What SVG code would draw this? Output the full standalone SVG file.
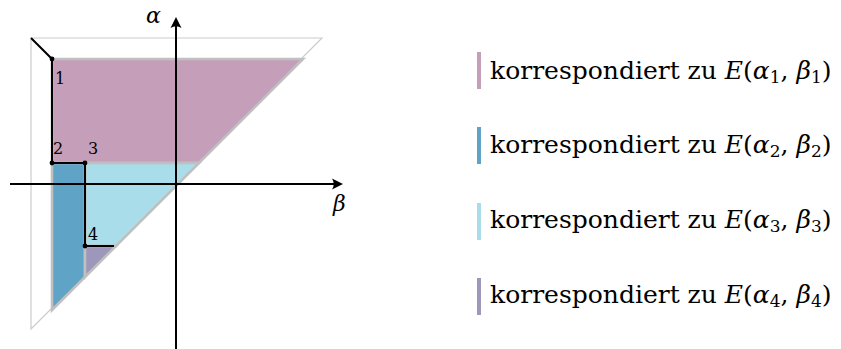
<svg xmlns="http://www.w3.org/2000/svg" width="841" height="349" viewBox="0 0 841 349">
<style>
.reg{stroke:#c0c0c0;stroke-width:2.6;stroke-linejoin:miter}
.ax{stroke:#000;stroke-width:2;fill:none}
.num{font-size:16px}
.lg{font-size:25px}
.it{font-style:italic}
.sub{font-size:17px}
.bar{stroke:none}
</style>
<rect width="841" height="349" fill="#fff"/>
<g id="plot">
<polygon id="outer" points="31,38 322,38 31,329" fill="none" stroke="#cccccc" stroke-width="1.2"/>
<polygon id="region1" class="reg" points="52,59 303,59 199,163 52,163" fill="#c59fb9"/>
<polygon id="region3" class="reg" points="85,163 199,163 116,246 85,246" fill="#a9ddea"/>
<polygon id="region2" class="reg" points="52,163 85,163 85,277 52,310" fill="#5fa3c7"/>
<polygon id="region4" class="reg" points="85,246 116,246 85,277" fill="#9c97bb"/>
</g>
<g id="axes">
<line class="ax" x1="10" y1="184" x2="338" y2="184"/>
<path d="M343,184 L332,178.5 Q335.5,184 332,189.5 Z" fill="#000"/>
<line class="ax" x1="176" y1="349" x2="176" y2="22"/>
<path d="M176,17 L170.5,28 Q176,24.5 181.5,28 Z" fill="#000"/>
<text x="146" y="23" font-family="DejaVu Serif, serif" font-size="22" font-style="italic">α</text>
<text x="333" y="211" font-family="DejaVu Serif, serif" font-size="22" font-style="italic">β</text>
</g>
<g id="connectors">
<path d="M31,38 L52,59 L52,163 L85,163 L85,246 L114,246" fill="none" stroke="#000" stroke-width="2"/>
<circle cx="52" cy="59" r="2.4"/>
<circle cx="52" cy="163" r="2.4"/>
<circle cx="85" cy="163" r="2.4"/>
<circle cx="85" cy="246" r="2.4"/>
</g>
<g id="labels" font-family="DejaVu Serif, serif">
<text x="55" y="84" class="num">1</text>
<text x="53" y="154" class="num">2</text>
<text x="88" y="154" class="num">3</text>
<text x="88" y="240" class="num">4</text>
</g>
<g id="legend" font-family="DejaVu Serif, serif">
<g id="leg1">
<rect class="bar" x="477" y="52" width="4" height="37" fill="#c59fb9"/>
<text x="490" y="79" class="lg">korrespondiert zu <tspan class="it">E</tspan>(<tspan class="it">α</tspan><tspan class="sub" dy="4">1</tspan><tspan dy="-4">, </tspan><tspan class="it">β</tspan><tspan class="sub" dy="4">1</tspan><tspan dy="-4">)</tspan></text>
</g>
<g id="leg2">
<rect class="bar" x="477" y="127" width="4" height="37" fill="#5fa3c7"/>
<text x="490" y="153" class="lg">korrespondiert zu <tspan class="it">E</tspan>(<tspan class="it">α</tspan><tspan class="sub" dy="4">2</tspan><tspan dy="-4">, </tspan><tspan class="it">β</tspan><tspan class="sub" dy="4">2</tspan><tspan dy="-4">)</tspan></text>
</g>
<g id="leg3">
<rect class="bar" x="477" y="203" width="4" height="37" fill="#a9ddea"/>
<text x="490" y="228" class="lg">korrespondiert zu <tspan class="it">E</tspan>(<tspan class="it">α</tspan><tspan class="sub" dy="4">3</tspan><tspan dy="-4">, </tspan><tspan class="it">β</tspan><tspan class="sub" dy="4">3</tspan><tspan dy="-4">)</tspan></text>
</g>
<g id="leg4">
<rect class="bar" x="477" y="278" width="4" height="37" fill="#9c97bb"/>
<text x="490" y="303" class="lg">korrespondiert zu <tspan class="it">E</tspan>(<tspan class="it">α</tspan><tspan class="sub" dy="4">4</tspan><tspan dy="-4">, </tspan><tspan class="it">β</tspan><tspan class="sub" dy="4">4</tspan><tspan dy="-4">)</tspan></text>
</g>
</g>
</svg>
